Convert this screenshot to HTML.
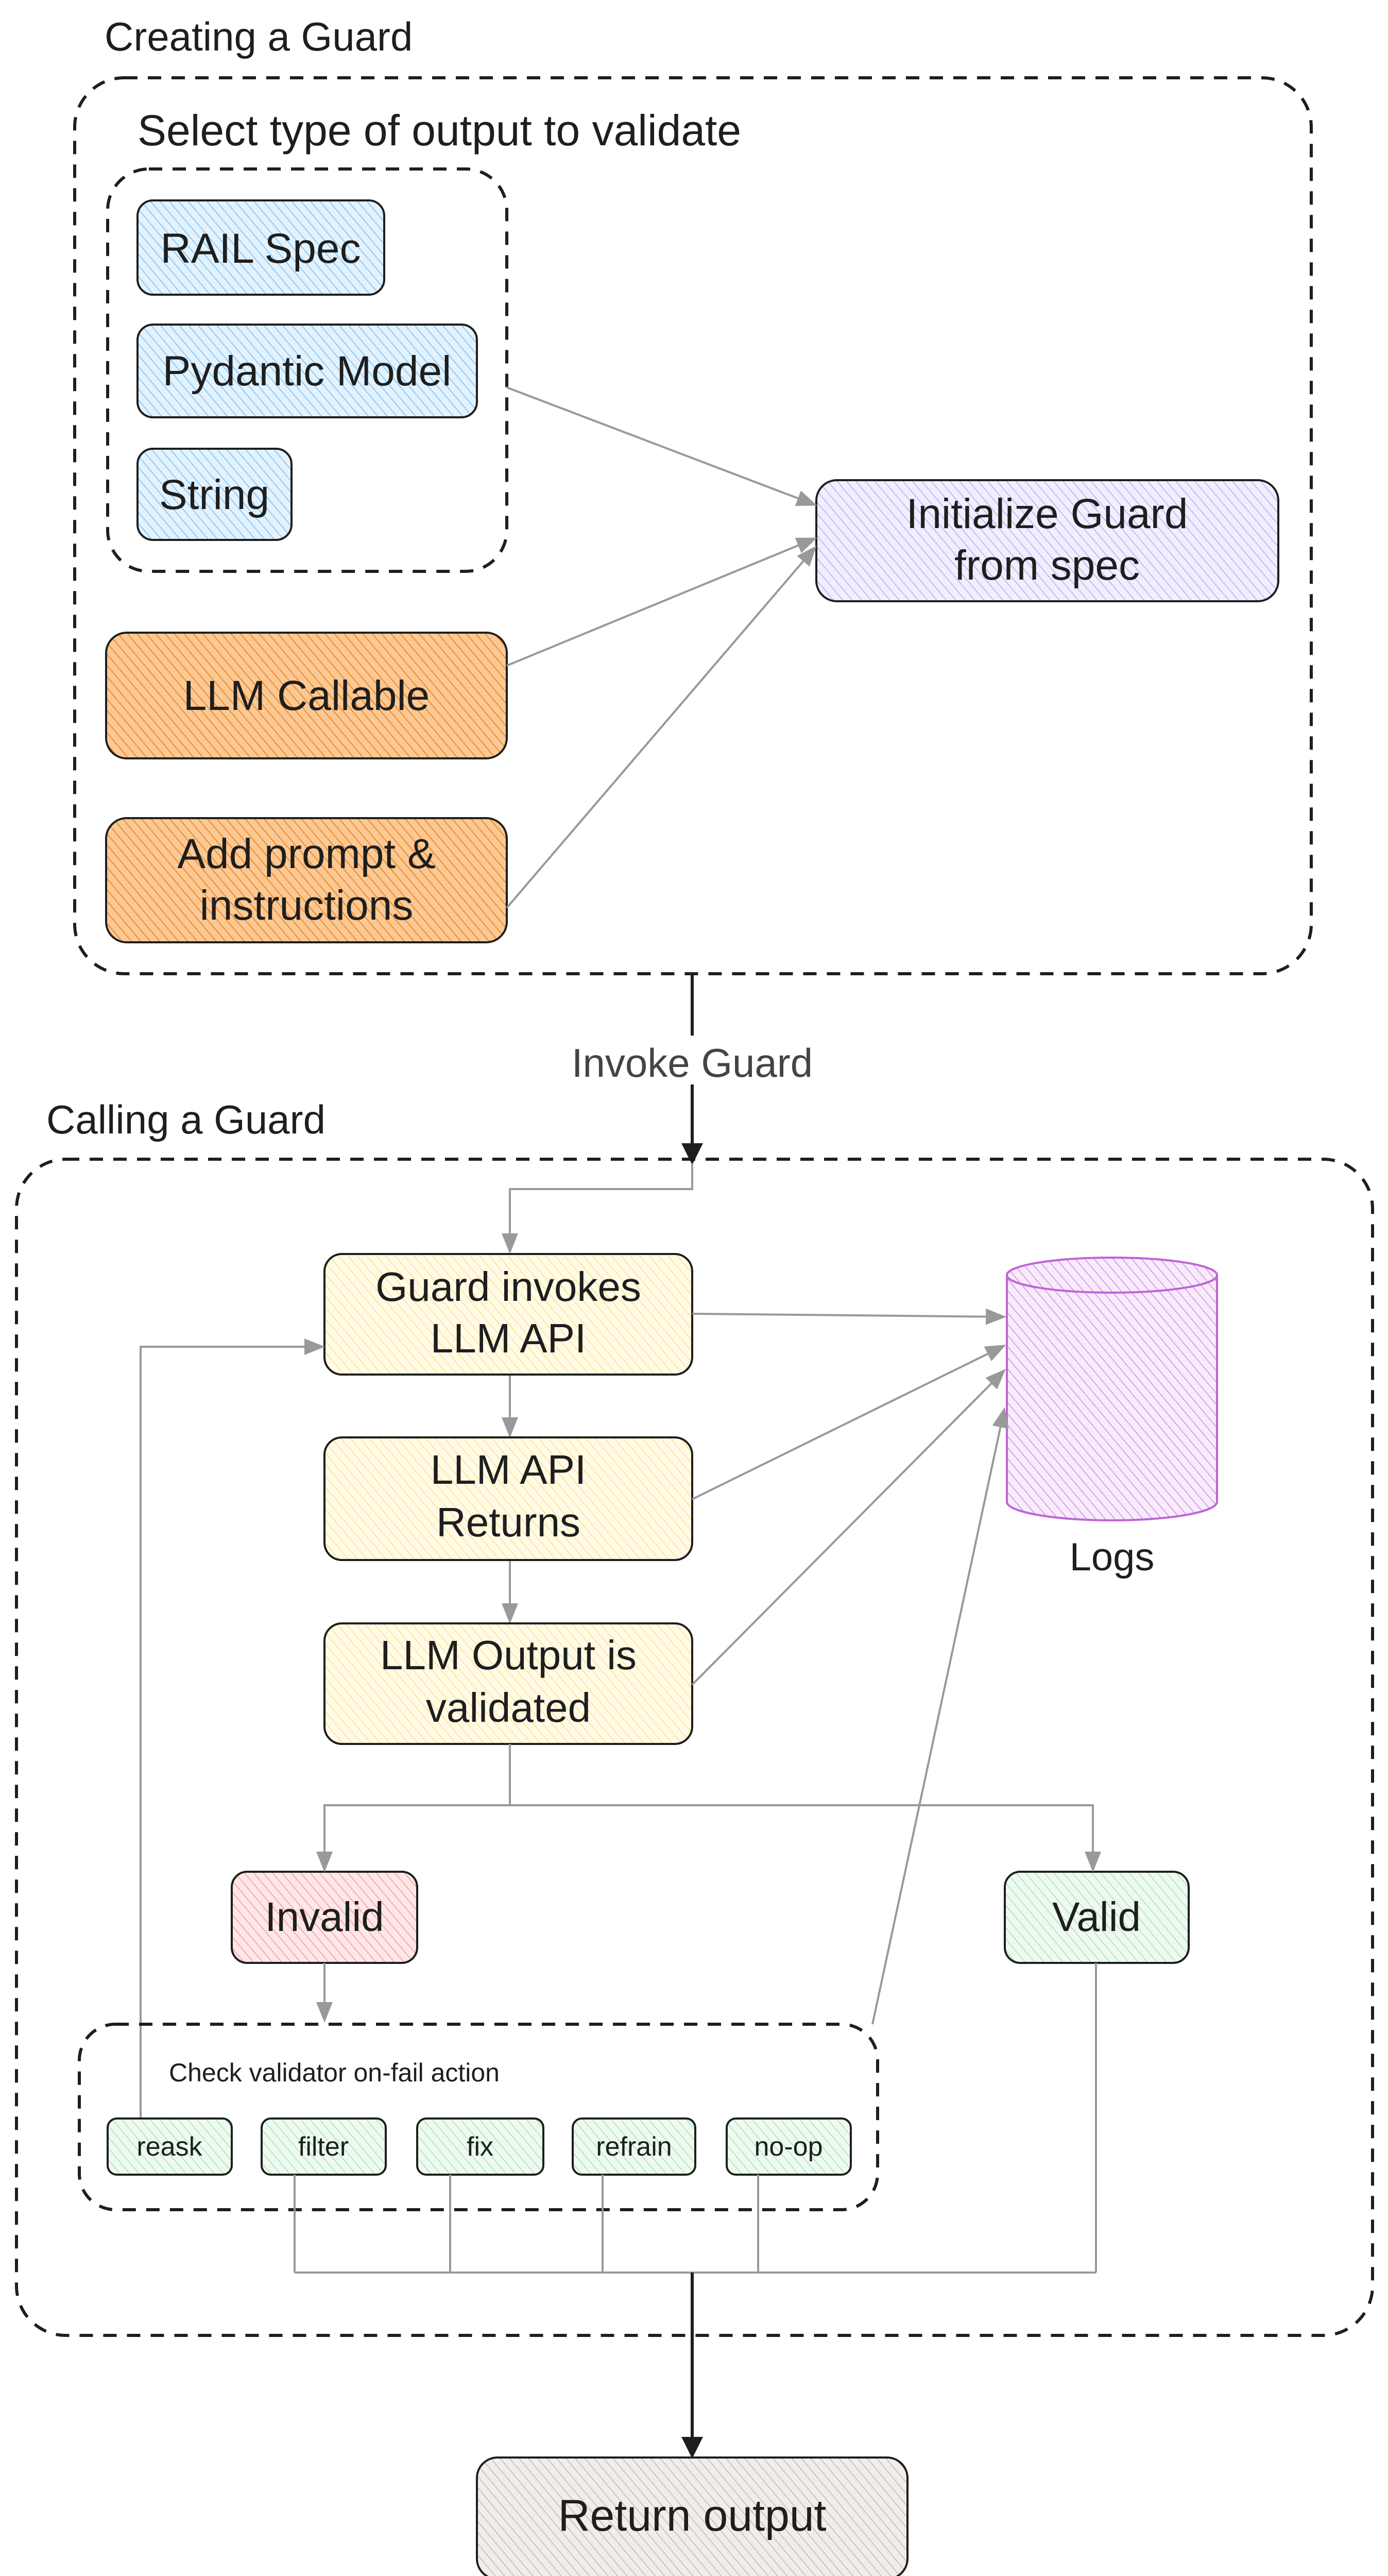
<!DOCTYPE html>
<html><head><meta charset="utf-8"><style>
html,body{margin:0;padding:0;background:#fff;overflow:hidden;width:2695px;height:5040px}
svg{display:block}
text{font-family:"Liberation Sans",sans-serif;fill:#1e1e1e}
</style></head><body>
<svg width="2695" height="5040" viewBox="0 0 2695 5040" xmlns="http://www.w3.org/2000/svg">
<defs>
<pattern id="pb" width="14" height="14" patternUnits="userSpaceOnUse" patternTransform="rotate(-40)"><rect width="14" height="14" fill="#e3f2fc"/><line x1="0" y1="0" x2="0" y2="14" stroke="#74c0fc" stroke-width="3"/></pattern>
<pattern id="po" width="14" height="14" patternUnits="userSpaceOnUse" patternTransform="rotate(-40)"><rect width="14" height="14" fill="#fbc995"/><line x1="0" y1="0" x2="0" y2="14" stroke="#f08c2a" stroke-width="4"/></pattern>
<pattern id="pp" width="14" height="14" patternUnits="userSpaceOnUse" patternTransform="rotate(-40)"><rect width="14" height="14" fill="#f1eefe"/><line x1="0" y1="0" x2="0" y2="14" stroke="#b9abf5" stroke-width="3"/></pattern>
<pattern id="py" width="14" height="14" patternUnits="userSpaceOnUse" patternTransform="rotate(-40)"><rect width="14" height="14" fill="#fffbe8"/><line x1="0" y1="0" x2="0" y2="14" stroke="#ffdf80" stroke-width="3"/></pattern>
<pattern id="pr" width="14" height="14" patternUnits="userSpaceOnUse" patternTransform="rotate(-40)"><rect width="14" height="14" fill="#fde7e7"/><line x1="0" y1="0" x2="0" y2="14" stroke="#f59a9a" stroke-width="3"/></pattern>
<pattern id="pg" width="14" height="14" patternUnits="userSpaceOnUse" patternTransform="rotate(-40)"><rect width="14" height="14" fill="#eefaf0"/><line x1="0" y1="0" x2="0" y2="14" stroke="#a8e2b4" stroke-width="3"/></pattern>
<pattern id="pm" width="14" height="14" patternUnits="userSpaceOnUse" patternTransform="rotate(-40)"><rect width="14" height="14" fill="#f8ebfb"/><line x1="0" y1="0" x2="0" y2="14" stroke="#d08ee0" stroke-width="3"/></pattern>
<pattern id="pw" width="14" height="14" patternUnits="userSpaceOnUse" patternTransform="rotate(-40)"><rect width="14" height="14" fill="#f1edeb"/><line x1="0" y1="0" x2="0" y2="14" stroke="#c5b8b0" stroke-width="3"/></pattern>
<marker id="ag" markerWidth="10" markerHeight="8" refX="9" refY="4" orient="auto" markerUnits="strokeWidth"><path d="M0,0 L10,4 L0,8 z" fill="#999"/></marker>
<marker id="ak" markerWidth="7" markerHeight="7" refX="6" refY="3.5" orient="auto" markerUnits="strokeWidth"><path d="M0,0 L7,3.5 L0,7 z" fill="#1e1e1e"/></marker>
</defs>

<text x="203" y="98" font-size="78">Creating a Guard</text>
<rect x="145" y="151" width="2401" height="1739" rx="96" fill="none" stroke="#1e1e1e" stroke-width="6" stroke-dasharray="26 20"/>
<text x="267" y="282" font-size="84">Select type of output to validate</text>
<rect x="209" y="328" width="775" height="781" rx="80" fill="none" stroke="#1e1e1e" stroke-width="6" stroke-dasharray="26 20"/>

<g stroke="#1e1e1e" stroke-width="4">
<rect x="267" y="389" width="479" height="183" rx="30" fill="url(#pb)"/>
<rect x="267" y="630" width="659" height="180" rx="30" fill="url(#pb)"/>
<rect x="267" y="871" width="299" height="177" rx="30" fill="url(#pb)"/>
<rect x="206" y="1228" width="778" height="244" rx="40" fill="url(#po)"/>
<rect x="206" y="1588" width="778" height="241" rx="40" fill="url(#po)"/>
<rect x="1585" y="932" width="897" height="235" rx="40" fill="url(#pp)"/>
</g>
<g font-size="82" text-anchor="middle">
<text x="506" y="510">RAIL Spec</text>
<text x="596" y="748">Pydantic Model</text>
<text x="416" y="988">String</text>
<text x="595" y="1378">LLM Callable</text>
<text x="595" y="1685">Add prompt &amp;</text>
<text x="595" y="1785">instructions</text>
<text x="2033" y="1025">Initialize Guard</text>
<text x="2033" y="1125">from spec</text>
</g>
<g stroke="#999" stroke-width="4" fill="none" marker-end="url(#ag)">
<line x1="984" y1="752" x2="1583" y2="980"/>
<line x1="984" y1="1292" x2="1583" y2="1045"/>
<line x1="984" y1="1762" x2="1583" y2="1062"/>
</g>

<line x1="1344" y1="1890" x2="1344" y2="2255" stroke="#1e1e1e" stroke-width="6" marker-end="url(#ak)"/>
<rect x="1060" y="2010" width="568" height="95" fill="#fff"/>
<text x="1344" y="2090" font-size="78" text-anchor="middle" style="fill:#444">Invoke Guard</text>

<text x="90" y="2200" font-size="78">Calling a Guard</text>
<rect x="32" y="2250" width="2633" height="2283" rx="96" fill="none" stroke="#1e1e1e" stroke-width="6" stroke-dasharray="26 20"/>

<polyline points="1344,2258 1344,2308 990,2308 990,2430" fill="none" stroke="#999" stroke-width="4" marker-end="url(#ag)"/>
<line x1="990" y1="2668" x2="990" y2="2787" stroke="#999" stroke-width="4" marker-end="url(#ag)"/>
<line x1="990" y1="3028" x2="990" y2="3148" stroke="#999" stroke-width="4" marker-end="url(#ag)"/>

<g stroke="#1e1e1e" stroke-width="4">
<rect x="630" y="2434" width="714" height="234" rx="34" fill="url(#py)"/>
<rect x="630" y="2790" width="714" height="238" rx="34" fill="url(#py)"/>
<rect x="630" y="3151" width="714" height="234" rx="34" fill="url(#py)"/>
<rect x="450" y="3633" width="360" height="177" rx="30" fill="url(#pr)"/>
<rect x="1951" y="3633" width="357" height="177" rx="30" fill="url(#pg)"/>
</g>
<g stroke="#c063d6" stroke-width="4">
<path d="M1955,2475 L1955,2915 A204,36 0 0 0 2363,2915 L2363,2475 Z" fill="url(#pm)"/>
<ellipse cx="2159" cy="2475" rx="204" ry="34" fill="url(#pm)"/>
</g>
<text x="2159" y="3048" font-size="76" text-anchor="middle">Logs</text>

<g font-size="80" text-anchor="middle">
<text x="987" y="2525">Guard invokes</text>
<text x="987" y="2625">LLM API</text>
<text x="987" y="2880">LLM API</text>
<text x="987" y="2982">Returns</text>
<text x="987" y="3240">LLM Output is</text>
<text x="987" y="3342">validated</text>
<text x="630" y="3748">Invalid</text>
<text x="2129" y="3748">Valid</text>
</g>

<g stroke="#999" stroke-width="4" fill="none" marker-end="url(#ag)">
<line x1="1344" y1="2550" x2="1950" y2="2556"/>
<line x1="1344" y1="2910" x2="1950" y2="2612"/>
<line x1="1344" y1="3270" x2="1950" y2="2660"/>
<line x1="1694" y1="3929" x2="1950" y2="2735"/>
<polyline points="990,3385 990,3504 630,3504 630,3630"/>
<polyline points="990,3504 2122,3504 2122,3630"/>
<line x1="630" y1="3810" x2="630" y2="3922"/>
<polyline points="273,4112 273,2614 627,2614"/>
</g>

<rect x="154" y="3929" width="1550" height="360" rx="70" fill="none" stroke="#1e1e1e" stroke-width="6" stroke-dasharray="26 20"/>
<text x="328" y="4040" font-size="50">Check validator on-fail action</text>
<g stroke="#1e1e1e" stroke-width="4" fill="url(#pg)">
<rect x="209" y="4112" width="241" height="109" rx="18"/>
<rect x="508" y="4112" width="241" height="109" rx="18"/>
<rect x="810" y="4112" width="245" height="109" rx="18"/>
<rect x="1112" y="4112" width="238" height="109" rx="18"/>
<rect x="1411" y="4112" width="241" height="109" rx="18"/>
</g>
<g font-size="52" text-anchor="middle">
<text x="329" y="4184">reask</text>
<text x="628" y="4184">filter</text>
<text x="932" y="4184">fix</text>
<text x="1231" y="4184">refrain</text>
<text x="1531" y="4184">no-op</text>
</g>
<g stroke="#999" stroke-width="4" fill="none">
<line x1="572" y1="4221" x2="572" y2="4411"/>
<line x1="874" y1="4221" x2="874" y2="4411"/>
<line x1="1170" y1="4221" x2="1170" y2="4411"/>
<line x1="1472" y1="4221" x2="1472" y2="4411"/>
<line x1="2128" y1="3810" x2="2128" y2="4411"/>
<line x1="572" y1="4411" x2="2128" y2="4411"/>
</g>
<line x1="1344" y1="4411" x2="1344" y2="4766" stroke="#1e1e1e" stroke-width="6" marker-end="url(#ak)"/>
<rect x="926" y="4770" width="836" height="236" rx="40" fill="url(#pw)" stroke="#1e1e1e" stroke-width="4"/>
<text x="1344" y="4912" font-size="86" text-anchor="middle">Return output</text>
</svg>
</body></html>
